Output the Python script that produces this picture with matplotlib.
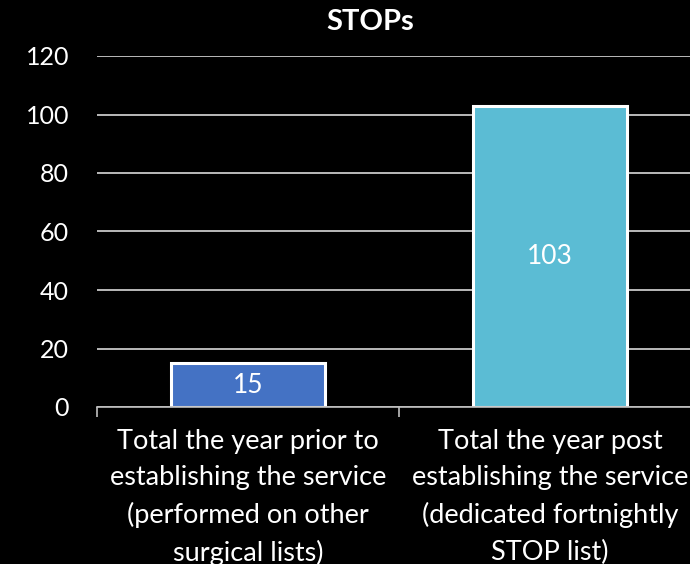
import matplotlib.pyplot as plt

# data
categories = [
    "Total the year prior to\nestablishing the service\n(performed on other\nsurgical lists)",
    "Total the year post\nestablishing the service\n(dedicated fortnightly\nSTOP list)",
]
values = [15, 103]
bar_colors = ["#4472C4", "#5BBCD4"]
y_ticks = [0, 20, 40, 60, 80, 100, 120]

plt.rcParams['font.family'] = ['Lato', 'DejaVu Sans']

fig = plt.figure(figsize=(6.9, 5.64), dpi=100, facecolor="black")
ax = fig.add_axes([97 / 690, 157 / 564, 604 / 690, 351 / 564])
ax.set_facecolor("black")

x = [0, 1]
bars = ax.bar(x, values, width=0.507, color=bar_colors,
              edgecolor="white", linewidth=2.2, zorder=3)

for b, v in zip(bars, values):
    ax.text(b.get_x() + b.get_width() / 2, v / 2, str(v),
            ha="center", va="center", color="white", fontsize=19, zorder=4)

ax.set_xlim(-0.5, 1.5)
ax.set_ylim(0, 120)
ax.set_yticks(y_ticks)
ax.set_yticklabels([str(t) for t in y_ticks], color="white", fontsize=18)
ax.tick_params(axis="y", length=0, pad=20)

# category ticks sit between categories
ax.set_xticks([-0.5, 0.5, 1.5], minor=False)
ax.set_xticklabels([])
ax.set_xticks(x, minor=True)
ax.set_xticklabels(categories, minor=True, color="white", fontsize=19.5,
                   linespacing=1.56)
ax.tick_params(axis="x", which="major", length=7, width=1.2, color="#BFBFBF")
ax.tick_params(axis="x", which="minor", length=0, pad=16)

ax.grid(axis="y", color="#D9D9D9", linewidth=1.2, zorder=0)
for s in ["top", "right", "left"]:
    ax.spines[s].set_visible(False)
ax.spines["bottom"].set_color("#BFBFBF")
ax.spines["bottom"].set_linewidth(1.2)
ax.spines["bottom"].set_zorder(5)

fig.text(370 / 690, 1 - 22 / 564, "STOPs", color="white", fontsize=21,
         fontweight="bold", ha="center", va="center")

fig.savefig("out.png", dpi=100, facecolor="black")
